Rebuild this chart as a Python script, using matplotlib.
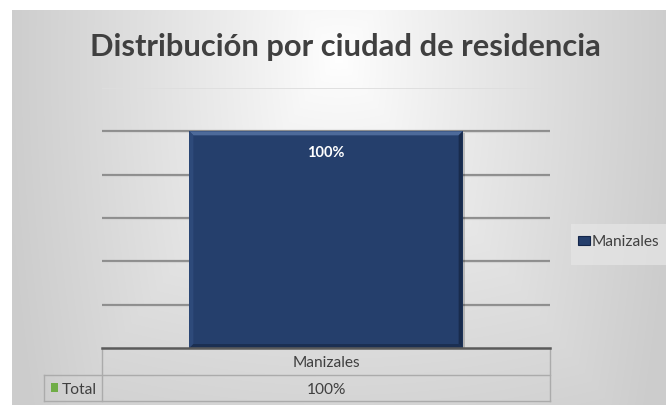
import numpy as np
import matplotlib
matplotlib.use("Agg")
import matplotlib.pyplot as plt
from matplotlib.patches import Rectangle, Polygon
from matplotlib.transforms import IdentityTransform

# ---- data ----
title = "Distribución por ciudad de residencia"
categories = ["Manizales"]
values = [100]            # percent
series_name = "Total"
y_max = 120
y_step = 20

W, H = 666, 406
fig = plt.figure(figsize=(W / 100, H / 100), dpi=100)
fig.patch.set_facecolor("white")

FONT = ["Lato", "DejaVu Sans"]
TXT = "#404040"

def px(x, y):
    """pixel (from top-left) -> figure fraction"""
    return x / W, 1 - y / H

# ---- chart area with path gradient background ----
cx0, cy0, cx1, cy1 = 12, 11, W, H
bg = fig.add_axes([cx0 / W, 0, (cx1 - cx0) / W, (cy1 - cy0) / H])
bg.set_axis_off()
gw, gh = cx1 - cx0, cy1 - cy0
xx, yy = np.meshgrid(np.linspace(0, 1, gw), np.linspace(0, 1, gh))
cxn, cyn = 0.50, 0.12
dx = np.abs(xx - cxn) / 0.52
dy = np.abs(yy - cyn) / 1.05
t = np.clip(np.maximum(dx, dy * 0.95) * 0.75 + np.hypot(dx, dy) * 0.25, 0, 1)
t = t ** 0.9
c_in = np.array([1.0, 1.0, 1.0])
c_out = np.array([0.80, 0.80, 0.80])
img = c_in[None, None, :] * (1 - t[..., None]) + c_out[None, None, :] * t[..., None]
bg.imshow(img, aspect="auto", extent=(0, 1, 1, 0), interpolation="bilinear")
bg.set_xlim(0, 1)
bg.set_ylim(1, 0)

# ---- plot area ----
pl, pt, pr, pb = 102, 89, 550, 349
ax = fig.add_axes([pl / W, 1 - pb / H, (pr - pl) / W, (pb - pt) / H])
ax.patch.set_alpha(0)
for s in ax.spines.values():
    s.set_visible(False)
ax.set_xticks([])
ax.set_yticks([])
ax.set_xlim(-0.5, len(categories) - 0.5)
ax.set_ylim(0, y_max)

for g in range(y_step, y_max + 1, y_step):
    if g == y_max:
        ax.axhline(g, color="#dedede", lw=1.3, zorder=1)
    else:
        ax.axhline(g, color="#8e8e8e", lw=1.6, zorder=1)
        ax.axhline(g - 0.45, color="#d2d2d2", lw=0.8, zorder=1)

bar_w = 0.61
navy = "#253f6c"
bars = ax.bar(range(len(categories)), values, width=bar_w, color=navy,
              edgecolor="none", zorder=3)

# bevel around each bar, built from the bar's own display extent
fig.canvas.draw()
for rect in bars:
    x0d, y0d = ax.transData.transform((rect.get_x(), 0))
    x1d, y1d = ax.transData.transform((rect.get_x() + rect.get_width(), rect.get_height()))
    b = 4
    # top highlight
    ax.add_patch(Polygon([(x0d, y1d), (x1d, y1d), (x1d - b, y1d - b), (x0d + b, y1d - b)],
                         closed=True, transform=IdentityTransform(),
                         facecolor="#4d6a9a", edgecolor="none", zorder=4))
    # left edge
    ax.add_patch(Polygon([(x0d, y0d), (x0d, y1d), (x0d + b, y1d - b), (x0d + b, y0d + b)],
                         closed=True, transform=IdentityTransform(),
                         facecolor="#2e4a7a", edgecolor="none", zorder=4))
    # right edge
    ax.add_patch(Polygon([(x1d, y0d), (x1d, y1d), (x1d - b, y1d - b), (x1d - b, y0d + b)],
                         closed=True, transform=IdentityTransform(),
                         facecolor="#182b4c", edgecolor="none", zorder=4))
    # bottom edge
    ax.add_patch(Polygon([(x0d, y0d), (x1d, y0d), (x1d - b, y0d + b), (x0d + b, y0d + b)],
                         closed=True, transform=IdentityTransform(),
                         facecolor="#1b2f52", edgecolor="none", zorder=4))
    # soft shadow on the right
    ax.add_patch(Rectangle((x1d, y0d), 2, y1d - y0d - 2, transform=IdentityTransform(),
                           facecolor="#000000", alpha=0.18, edgecolor="none", zorder=2))

for i, v in enumerate(values):
    ax.annotate(f"{v}%", (i, v), xytext=(0, -15), textcoords="offset points",
                ha="center", va="center", color="white", fontsize=10.5,
                fontweight="bold", family=FONT, zorder=6)

# ---- title, fitted to its width ----
ttl = fig.text(*px(345, 47), title, ha="center", va="center", fontsize=22,
               fontweight="bold", color=TXT, family=FONT)
fig.canvas.draw()
tw = ttl.get_window_extent().width
ttl.set_fontsize(22 * 510 / tw)

# ---- data table ----
lc = "#ababab"
tbl_left, row0, row1, row2 = 44, 349, 376, 402

def hline(y, x0, x1, color=lc, lw=1.0):
    fig.add_artist(plt.Line2D([x0 / W, x1 / W], [1 - y / H, 1 - y / H],
                              color=color, lw=lw, transform=fig.transFigure, zorder=8))

def vline(x, y0, y1, color=lc, lw=1.0):
    fig.add_artist(plt.Line2D([x / W, x / W], [1 - y0 / H, 1 - y1 / H],
                              color=color, lw=lw, transform=fig.transFigure, zorder=8))

hline(row1, tbl_left, pr)
hline(row2, tbl_left, pr)
vline(pl, row0, row2)
vline(pr, row0, row2)
vline(tbl_left, row1, row2)
hline(row0, pl, pr, color="#5a5a5a", lw=1.8)

col_w = (pr - pl) / len(categories)
for i, (c, v) in enumerate(zip(categories, values)):
    xc = pl + col_w * (i + 0.5)
    fig.text(*px(xc, (row0 + row1) / 2 + 1), c, ha="center", va="center",
             fontsize=11.2, color=TXT, family=FONT, zorder=9)
    fig.text(*px(xc, (row1 + row2) / 2 + 1), f"{v}%", ha="center", va="center",
             fontsize=11.2, color=TXT, family=FONT, zorder=9)

fig.add_artist(Rectangle(px(51, 393), 7 / W, 9 / H, transform=fig.transFigure,
                         facecolor="#70ad47", edgecolor="none", zorder=9))
fig.text(*px(62, (row1 + row2) / 2 + 1), series_name, ha="left", va="center",
         fontsize=11.2, color=TXT, family=FONT, zorder=9)

# ---- legend ----
fig.add_artist(Rectangle(px(571, 266), 95 / W, 41 / H, transform=fig.transFigure,
                         facecolor="#e6e6e6", edgecolor="none", alpha=0.7, zorder=7))
fig.add_artist(Rectangle(px(578, 246), 12 / W, 9 / H, transform=fig.transFigure,
                         facecolor=navy, edgecolor="#14264a", lw=0.8, zorder=9))
fig.text(*px(592, 242), categories[0], ha="left", va="center", fontsize=11.2,
         color=TXT, family=FONT, zorder=9)

fig.savefig("out.png", dpi=100, facecolor=fig.get_facecolor())
